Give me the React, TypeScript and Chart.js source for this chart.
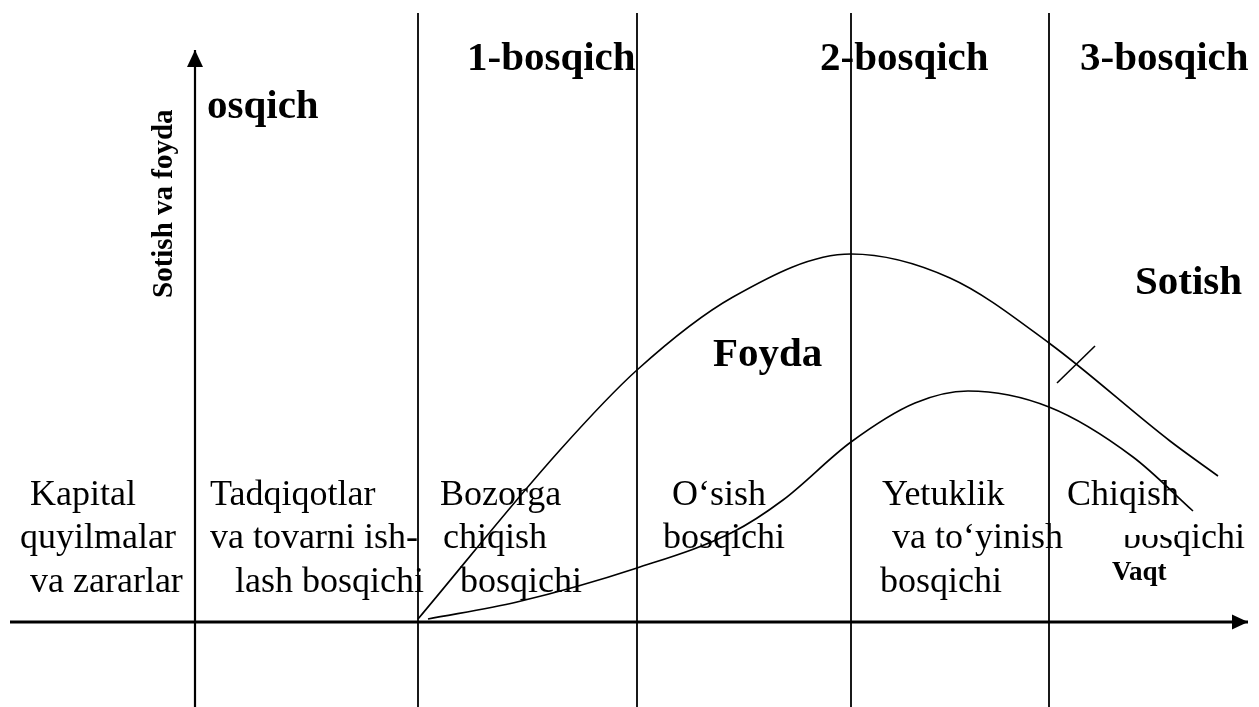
import React, { useEffect, useRef } from "react";
import { Chart, registerables } from "chart.js";

Chart.register(...registerables);

// ---- data (time on x, sales / profit on y, arbitrary units) ----
const stageEdges = [22.3, 44.2, 65.6, 85.4];

const sotishX = [22.3, 36.5, 44.2, 53.8, 65.6, 75.5, 85.4, 97.5, 102.3];
const sotishY = [0.3, 17.2, 25.2, 32.5, 36.8, 34.4, 27.9, 18.1, 14.6];

const foydaX = [23.3, 32.2, 44.2, 53.8, 58.8, 65.6, 72.0, 77.3, 85.4, 93.8, 99.8];
const foydaY = [0.3, 2.0, 5.4, 9.0, 12.2, 18.0, 21.9, 23.1, 21.5, 16.5, 11.1];

const stageTitles = ["1-bosqich", "2-bosqich", "3-bosqich", "osqich"];
const stageNotes = [
  "Kapital", "quyilmalar", "va zararlar",
  "Tadqiqotlar", "va tovarni ish-", "lash bosqichi",
  "Bozorga", "chiqish", "bosqichi",
  "O‘sish", "bosqichi",
  "Yetuklik", "va to‘yinish", "bosqichi",
  "Chiqish", "bosqichi",
];
const curveLabels = ["Foyda", "Sotish"];
const xAxisTitle = "Vaqt";
const yAxisTitle = "Sotish va foyda";

// ---- layout (positions in chart units, kept apart from the data) ----
const X_MIN = -19.5, X_MAX = 106.4, Y_MIN = -8.5, Y_MAX = 62.2;
const titlePos = [[27.2, 55.2], [62.5, 55.2], [88.5, 55.2], [1.2, 50.4]];
const notePos = [
  [-16.5, 11.7], [-17.5, 7.4], [-16.5, 3.0],
  [1.5, 11.7], [1.5, 7.4], [4.0, 3.0],
  [24.5, 11.7], [24.8, 7.4], [26.5, 3.0],
  [47.7, 11.7], [46.8, 7.4],
  [68.7, 11.7], [69.7, 7.4], [68.5, 3.0],
  [87.2, 11.7], [92.8, 7.4],
];
const curveLabelPos = [[51.8, 25.6], [94.0, 32.8]];
const xAxisTitlePos = [91.7, 4.2];
const yAxisTitlePos = [-2.3, 32.4];
const tickMark = [[86.2, 23.9], [90.0, 27.6]];
const hAxis = [[-18.5, 0], [105.3, 0]];
const vAxis = [[0, Y_MIN], [0, 57.2]];
const STAGE_TOP = 60.9;

const SERIF = '"Liberation Serif", "Times New Roman", serif';

const pts = (xs: number[], ys: number[]) => xs.map((x, i) => ({ x, y: ys[i] }));
const pairPts = (p: number[][]) => p.map(([x, y]) => ({ x, y }));

const lineDs = (data: any[], width: number, extra: any = {}) => ({
  data,
  showLine: true,
  borderColor: "#000",
  borderWidth: width,
  pointRadius: 0,
  pointHoverRadius: 0,
  fill: false,
  ...extra,
});

const textPlugin = {
  id: "diagramText",
  afterDatasetsDraw(chart: any) {
    const { ctx } = chart;
    const xs = chart.scales.x;
    const ys = chart.scales.y;
    const px = (v: number) => xs.getPixelForValue(v);
    const py = (v: number) => ys.getPixelForValue(v);
    ctx.save();
    ctx.fillStyle = "#000";

    // arrow heads
    const hx = px(hAxis[1][0]), hy = py(0);
    ctx.beginPath();
    ctx.moveTo(hx, hy);
    ctx.lineTo(hx - 16, hy - 7.5);
    ctx.lineTo(hx - 16, hy + 7.5);
    ctx.closePath();
    ctx.fill();
    const vx = px(0), vy = py(vAxis[1][1]);
    ctx.beginPath();
    ctx.moveTo(vx, vy);
    ctx.lineTo(vx - 8, vy + 17);
    ctx.lineTo(vx + 8, vy + 17);
    ctx.closePath();
    ctx.fill();

    ctx.textAlign = "left";
    ctx.textBaseline = "alphabetic";

    ctx.font = `bold 41px ${SERIF}`;
    stageTitles.forEach((t, i) => ctx.fillText(t, px(titlePos[i][0]), py(titlePos[i][1])));
    curveLabels.forEach((t, i) => ctx.fillText(t, px(curveLabelPos[i][0]), py(curveLabelPos[i][1])));

    ctx.font = `36px ${SERIF}`;
    stageNotes.forEach((t, i) => {
      const x = px(notePos[i][0]);
      const y = py(notePos[i][1]);
      if (i === stageNotes.length - 1) {
        // last note is partly hidden at its top in the original
        ctx.save();
        ctx.beginPath();
        ctx.rect(0, y - 13, chart.width, chart.height);
        ctx.rect(x + 55, 0, chart.width, chart.height);
        ctx.clip();
        ctx.fillText(t, x, y);
        ctx.restore();
      } else {
        ctx.fillText(t, x, y);
      }
    });

    ctx.font = `bold 27px ${SERIF}`;
    ctx.fillText(xAxisTitle, px(xAxisTitlePos[0]), py(xAxisTitlePos[1]));
    ctx.font = `bold 29px ${SERIF}`;
    ctx.save();
    ctx.translate(px(yAxisTitlePos[0]), py(yAxisTitlePos[1]));
    ctx.rotate(-Math.PI / 2);
    ctx.fillText(yAxisTitle, 0, 0);
    ctx.restore();

    ctx.restore();
  },
};

export default function App() {
  const ref = useRef<HTMLCanvasElement | null>(null);
  useEffect(() => {
    if (!ref.current) return;
    const stageDs = stageEdges.map((x) =>
      lineDs([{ x, y: Y_MIN }, { x, y: STAGE_TOP }], 1.8)
    );
    const chart = new Chart(ref.current, {
      type: "scatter",
      data: {
        datasets: [
          lineDs(pairPts(hAxis), 3),
          lineDs(pairPts(vAxis), 2.2),
          ...stageDs,
          lineDs(pts(sotishX, sotishY), 1.6, { cubicInterpolationMode: "monotone" }),
          lineDs(pts(foydaX, foydaY), 1.6, { cubicInterpolationMode: "monotone" }),
          lineDs(pairPts(tickMark), 1.6),
        ] as any,
      },
      options: {
        animation: false,
        responsive: false,
        devicePixelRatio: 1,
        layout: { padding: 0 },
        plugins: { legend: { display: false }, tooltip: { enabled: false } },
        events: [],
        scales: {
          x: { type: "linear", min: X_MIN, max: X_MAX, display: false },
          y: { type: "linear", min: Y_MIN, max: Y_MAX, display: false },
        },
      },
      plugins: [textPlugin],
    });
    return () => chart.destroy();
  }, []);
  return (
    <div style={{ position: "absolute", left: 0, top: 0, width: 1259, height: 707, background: "#fff" }}>
      <canvas ref={ref} width={1259} height={707} style={{ display: "block" }} />
    </div>
  );
}
